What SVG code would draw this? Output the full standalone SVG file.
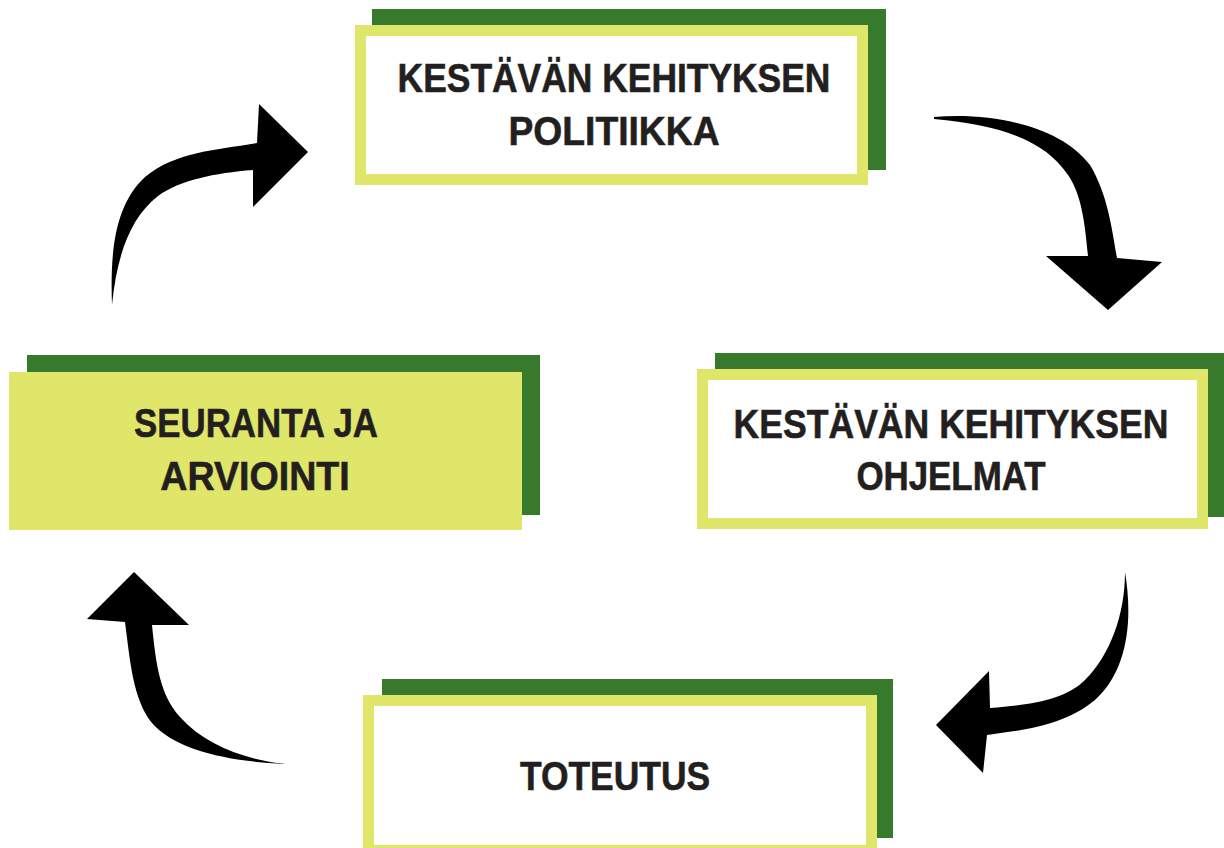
<svg xmlns="http://www.w3.org/2000/svg" width="1224" height="848" viewBox="0 0 1224 848">
<style>
.back{fill:#377a2b}
.front{fill:#e0e66a}
.inner{fill:#ffffff}
.lbl{font-family:"Liberation Sans Narrow","Liberation Sans",Arial,sans-serif;font-weight:bold;font-size:41px;fill:#231f20;text-anchor:middle;stroke:#231f20;stroke-width:0.6}
.arrow{fill:#000000}
</style>
<rect width="1224" height="848" fill="#ffffff"/>
<g id="node-politiikka">
<rect class="back" x="372" y="9" width="514" height="161"/>
<rect class="front" x="355" y="25" width="513" height="160"/>
<rect class="inner" x="366" y="36" width="491" height="138"/>
<text class="lbl" transform="translate(614,92) scale(0.864,1)">KESTÄVÄN KEHITYKSEN</text>
<text class="lbl" transform="translate(614,145) scale(0.909,1)">POLITIIKKA</text>
</g>
<g id="node-ohjelmat">
<rect class="back" x="715" y="353" width="509" height="164"/>
<rect class="front" x="697" y="369" width="511" height="160"/>
<rect class="inner" x="708" y="380" width="489" height="138"/>
<text class="lbl" transform="translate(951,438) scale(0.868,1)">KESTÄVÄN KEHITYKSEN</text>
<text class="lbl" transform="translate(951,490) scale(0.851,1)">OHJELMAT</text>
</g>
<g id="node-seuranta">
<rect class="back" x="27" y="355" width="513" height="160"/>
<rect class="front" x="9" y="372" width="513" height="158"/>
<text class="lbl" transform="translate(256,437) scale(0.85,1)">SEURANTA JA</text>
<text class="lbl" transform="translate(255,490) scale(0.917,1)">ARVIOINTI</text>
</g>
<g id="node-toteutus">
<rect class="back" x="382" y="679" width="511" height="159"/>
<rect class="front" x="363" y="695" width="514" height="165"/>
<rect class="inner" x="374" y="706" width="492" height="139"/>
<text class="lbl" transform="translate(615,790) scale(0.864,1)">TOTEUTUS</text>
</g>
<g id="connectors">
<path class="arrow" d="M934,117 C990,112 1060,125 1090,165 C1108,195 1112,230 1117,258 L1162,262 L1108,310 L1046,256 L1088,256 C1085,225 1082,195 1068,175 C1045,140 1000,125 934,119 Z"/>
<path class="arrow" d="M1125,572 C1133,620 1128,670 1095,700 C1065,725 1025,730 987,735 L983,773 L936,725 L989,671 L990,708 C1030,705 1065,700 1085,680 C1110,655 1125,615 1125,572 Z"/>
<path class="arrow" d="M287,764 C230,762 175,750 152,723 C133,700 130,660 125,622 L87,619 L134,572 L189,625 L152,625 C156,665 160,695 180,717 C205,745 245,760 287,764 Z"/>
<path class="arrow" d="M112,305 C110,250 115,205 145,177 C175,152 215,150 257,143 L259,104 L308,152 L253,207 L253,170 C215,173 180,180 158,196 C130,218 117,255 112,305 Z"/>
</g>
</svg>
